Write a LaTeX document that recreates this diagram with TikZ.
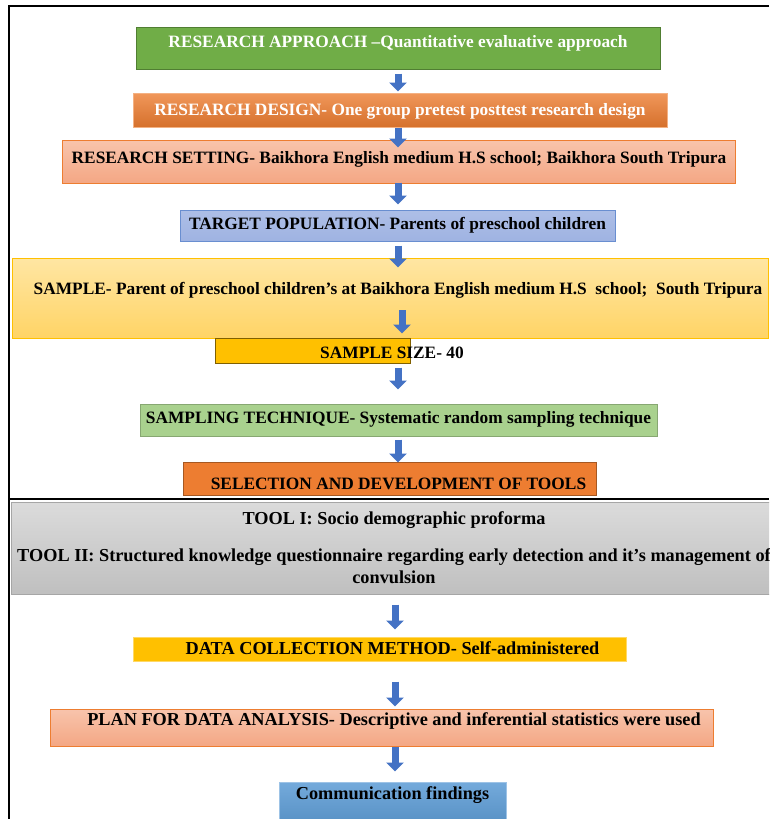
\documentclass[tikz,border=0pt]{standalone}
\usepackage{fontspec}
\setmainfont{Liberation Serif}
\usetikzlibrary{arrows.meta,positioning}
\definecolor{arrowblue}{HTML}{4472C4}
\definecolor{apgreen}{HTML}{70AD47}
\definecolor{apgreenline}{HTML}{507E32}
\definecolor{darkorange}{HTML}{ED7D31}
\definecolor{salmontop}{HTML}{F8C4AC}
\definecolor{salmonbot}{HTML}{F4A784}
\definecolor{popblue}{HTML}{9FB3E2}
\definecolor{sampletop}{HTML}{FFE6A3}
\definecolor{samplebot}{HTML}{FFD466}
\definecolor{gold}{HTML}{FFC000}
\definecolor{lightgreen}{HTML}{A9D18E}
\definecolor{commblue}{HTML}{5B9BD5}

\begin{document}
\begin{tikzpicture}[
  x=0.75pt,y=-0.75pt,
  stage/.style={draw,inner sep=0pt,align=center,text height=8pt,line width=0.75pt,font=\fontsize{13}{16.5}\selectfont\bfseries},
  bigtext/.style={font=\fontsize{13.7}{16.5}\selectfont\bfseries},
  flow/.style={-{Triangle[length=6.75pt,width=12.75pt]},line width=5.25pt,draw=arrowblue},
  frame/.style={line width=1.1pt}
]
\path[use as bounding box] (0,0) rectangle (769,819);
\clip (0,0) rectangle (769,819);
\fill[white] (0,0) rectangle (769,819);
\draw[frame] (769,6) -- (9,6) -- (9,819);
\draw[frame] (9,499) -- (769,499);

\coordinate (axis) at (398,0);
\coordinate (axisin) at (402,0);
\coordinate (axislow) at (395,0);

\node[stage,fill=apgreen,draw=apgreenline,text=white,minimum width=393pt,minimum height=31.5pt,text depth=9.5pt] (approach) at (398,48) {RESEARCH APPROACH –Quantitative evaluative approach};
\node[stage,top color=darkorange!80!white,bottom color=darkorange!90!black,draw=darkorange!60!white,text=white,minimum width=400.5pt,minimum height=25.5pt,text depth=0.5pt] (design) at (400,110) {RESEARCH DESIGN- One group pretest posttest research design};
\draw[flow,shorten <=3pt,shorten >=0.75pt] (approach.south -| axis) -- (design.north -| axis);
\node[stage,top color=salmontop,bottom color=salmonbot,draw=darkorange,minimum width=504.75pt,minimum height=32.25pt,text depth=5.75pt] (setting) at (399,161.5) {RESEARCH SETTING- Baikhora English medium H.S school; Baikhora South Tripura};
\draw[flow,shorten >=-6pt] (design.south -| axis) -- (setting.north -| axis);
\node[stage,top color=popblue!85!white,bottom color=popblue,draw=arrowblue!80!white,minimum width=326.25pt,minimum height=23.25pt,text depth=2.75pt] (target) at (397.5,225.5) {TARGET POPULATION- Parents of preschool children};
\draw[flow,shorten <=-0.75pt,shorten >=3.75pt] (setting.south -| axis) -- (target.north -| axis);
\node[stage,top color=sampletop,bottom color=samplebot,draw=gold,minimum width=567pt,minimum height=60pt,text depth=14pt] (sample) at (390,298) {\hspace*{12pt}SAMPLE- Parent of preschool children’s at Baikhora English medium H.S\ \ school;\ \ South Tripura};
\draw[flow,shorten <=3pt,shorten >=-7.5pt] (target.south -| axis) -- (sample.north -| axis);
\node[stage,fill=gold,draw=gold!50!black,minimum width=146.25pt,minimum height=18.75pt] (size) at (312.5,350.5) {};
\node[anchor=base,inner sep=0pt,font=\fontsize{13}{16}\selectfont\bfseries] (sizetext) at (392,358) {SAMPLE SIZE- 40};
\draw[flow,shorten <=9pt,shorten >=3pt] (sample.center -| axisin) -- (size.north -| axisin);
\node[stage,fill=lightgreen,draw=lightgreen!80!black,minimum width=387.75pt,minimum height=24pt,text depth=3.5pt] (technique) at (398.5,420) {SAMPLING TECHNIQUE- Systematic random sampling technique};
\draw[flow,shorten <=3pt,shorten >=10.5pt] (size.south -| axis) -- (technique.north -| axis);
\node[stage,fill=darkorange,draw=darkorange!70!black,minimum width=309.75pt,minimum height=24.75pt,text height=15.75pt,text depth=0pt] (selection) at (389.5,478.5) {\hspace*{13.5pt}SELECTION AND DEVELOPMENT OF TOOLS};
\draw[flow,shorten <=2.25pt,shorten >=-0.75pt] (technique.south -| axis) -- (selection.north -| axis);
\node[stage,bigtext,text height={},top color=black!14,bottom color=black!25,draw=black!35,minimum width=574.5pt,minimum height=69pt] (tools) at (394,548) {TOOL I: Socio demographic proforma\\[11.25pt]TOOL II: Structured knowledge questionnaire regarding early detection and it’s management of\\convulsion};
\node[stage,bigtext,fill=gold,draw=gold!60!white,minimum width=369.75pt,minimum height=18pt,text depth=0.5pt] (collection) at (379.5,649) {\hspace*{19.5pt}DATA COLLECTION METHOD- Self-administered};
\draw[flow,shorten <=7.5pt,shorten >=5.25pt] (tools.south -| axislow) -- (collection.north -| axislow);
\node[stage,bigtext,top color=salmontop,bottom color=salmonbot,draw=darkorange,minimum width=497.25pt,minimum height=27.75pt,text depth=11.75pt] (analysis) at (381.5,727.5) {\hspace*{18.75pt}PLAN FOR DATA ANALYSIS- Descriptive and inferential statistics were used};
\draw[flow,shorten <=15pt,shorten >=1.5pt] (collection.south -| axislow) -- (analysis.north -| axislow);
\node[stage,bigtext,top color=commblue!85!white,bottom color=commblue!90!black,draw=commblue!60!white,minimum width=170.25pt,minimum height=37.5pt,text depth=20pt] (findings) at (392.5,807) {Communication findings};
\draw[flow,shorten >=7.5pt] (analysis.south -| axislow) -- (findings.north -| axislow);
\end{tikzpicture}
\end{document}
